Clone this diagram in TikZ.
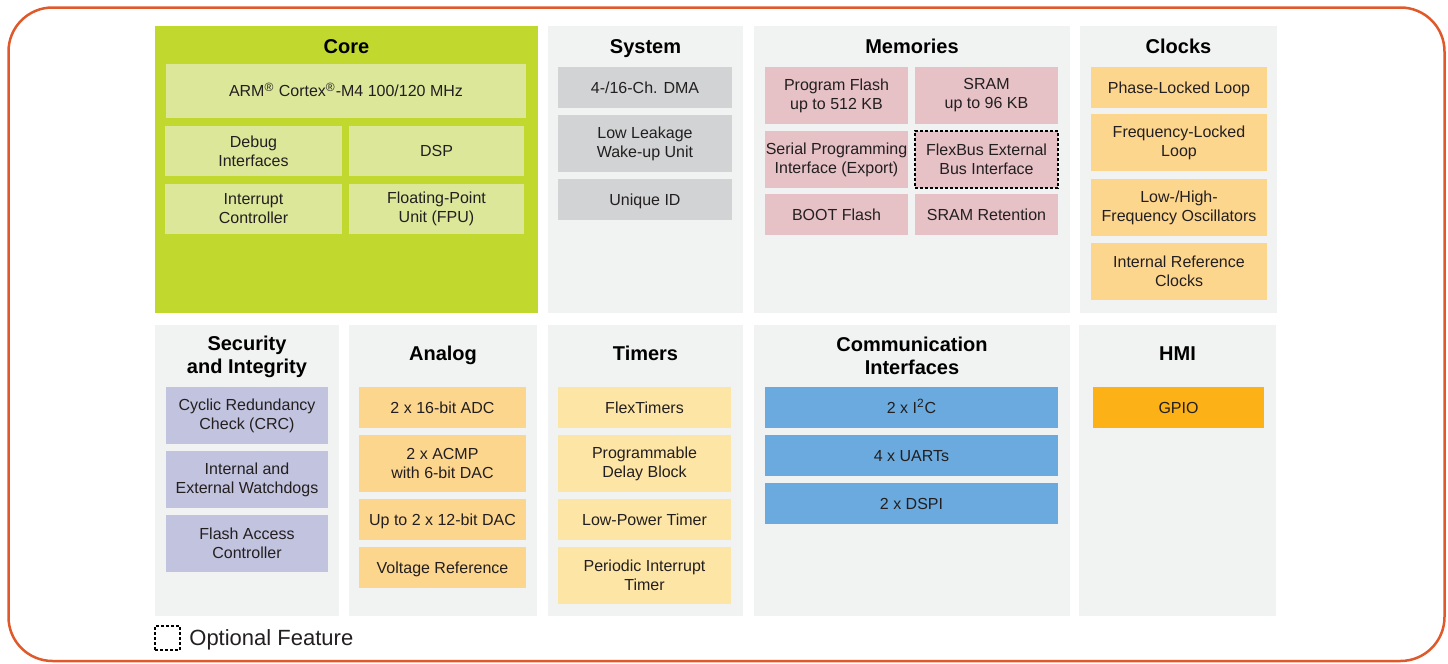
\documentclass[tikz,border=0pt]{standalone}
\usepackage{fontspec}
\setmainfont{Liberation Sans}
\usepackage{tikz}

\definecolor{rimorange}{HTML}{E0592A}
\definecolor{panelgray}{HTML}{F1F2F2}
\definecolor{coregreen}{HTML}{C1D82F}
\definecolor{corelight}{HTML}{DDE79A}
\definecolor{sysgray}{HTML}{D1D3D4}
\definecolor{mempink}{HTML}{E6C1C6}
\definecolor{clkorange}{HTML}{FDD68E}
\definecolor{tmryellow}{HTML}{FDE6A5}
\definecolor{secpurple}{HTML}{C2C3DF}
\definecolor{comblue}{HTML}{6AAADE}
\definecolor{hmiorange}{HTML}{FCB117}
\definecolor{inktext}{HTML}{231F20}

\tikzset{
  panel/.style={shape=rectangle,fill=panelgray,inner sep=0pt,minimum height=143.5pt},
  paneltitle/.style={align=center,font=\fontsize{10pt}{11.5pt}\selectfont\bfseries,text=black},
  titleline/.style={paneltitle,text height=7.2pt,text depth=0pt},
  block/.style={shape=rectangle,inner sep=0pt,align=center,text=inktext,
    font=\fontsize{8pt}{9.5pt}\selectfont},
  oneline/.style={text height=5.7pt,text depth=0pt},
  short/.style={minimum height=20.5pt,oneline},
  tall/.style={minimum height=28.5pt},
  optional/.style={draw=black,line width=0.6pt,dash pattern=on 1.5pt off 1pt}
}

\begin{document}
\begin{tikzpicture}[x=0.5pt,y=-0.5pt]
\useasboundingbox (0,0) rectangle (1448,664);
\draw[rimorange,line width=1.25pt,rounded corners=22pt] (8.5,7.5) rectangle (1444.5,661);

% top row
\node[panel,fill=coregreen,minimum width=191.5pt] (core) at (346.5,169.5) {};
\node[panel,minimum width=97.5pt] (system) at (645.5,169.5) {};
\node[panel,minimum width=158pt] (memories) at (912,169.5) {};
\node[panel,minimum width=98.5pt] (clocks) at (1178.5,169.5) {};
\node[titleline] (coreT) at (346.5,46) {Core};
\node[titleline] (systemT) at (645.5,46) {System};
\node[titleline] (memoriesT) at (912,46) {Memories};
\node[titleline] (clocksT) at (1178.5,46) {Clocks};

\node[block,oneline,fill=corelight,minimum width=180pt,minimum height=27pt] (arm) at (346,91) {ARM\textsuperscript{®} Cortex\textsuperscript{®}-M4 100/120 MHz};
\node[block,fill=corelight,minimum width=88.5pt,minimum height=25pt] (debug) at (253.5,151) {Debug\\Interfaces};
\node[block,oneline,fill=corelight,minimum width=87.5pt,minimum height=25pt] (dsp) at (436.5,151) {DSP};
\node[block,fill=corelight,minimum width=88.5pt,minimum height=25pt] (irq) at (253.5,209) {Interrupt\\Controller};
\node[block,fill=corelight,minimum width=87.5pt,minimum height=25pt] (fpu) at (436.5,209) {Floating-Point\\Unit (FPU)};

\node[block,short,fill=sysgray,minimum width=87pt] (dma) at (645,87.5) {4-/16-Ch. DMA};
\node[block,tall,fill=sysgray,minimum width=87pt] (llwu) at (645,143.5) {Low Leakage\\Wake-up Unit};
\node[block,short,fill=sysgray,minimum width=87pt] (uid) at (645,199.5) {Unique ID};

\node[block,tall,fill=mempink,minimum width=71.5pt] (pflash) at (836.5,95.5) {Program Flash\\up to 512 KB};
\node[block,tall,fill=mempink,minimum width=71.5pt] (sram) at (986.5,95.5) {SRAM\\up to 96 KB};
\node[block,tall,fill=mempink,minimum width=71.5pt] (ezport) at (836.5,159.5) {Serial Programming\\Interface (Export)};
\node[block,tall,fill=mempink,optional,minimum width=71.5pt] (flexbus) at (986.5,159.5) {FlexBus External\\Bus Interface};
\node[block,short,fill=mempink,minimum width=71.5pt] (boot) at (836.5,214.5) {BOOT Flash};
\node[block,short,fill=mempink,minimum width=71.5pt] (sramret) at (986.5,214.5) {SRAM Retention};

\node[block,short,fill=clkorange,minimum width=88pt] (pll) at (1179,87.5) {Phase-Locked Loop};
\node[block,tall,fill=clkorange,minimum width=88pt] (fll) at (1179,142.5) {Frequency-Locked\\Loop};
\node[block,tall,fill=clkorange,minimum width=88pt] (osc) at (1179,207.5) {Low-/High-\\Frequency Oscillators};
\node[block,tall,fill=clkorange,minimum width=88pt] (irc) at (1179,271.5) {Internal Reference\\Clocks};

% bottom row
\node[panel,minimum width=92pt,minimum height=145.5pt] (security) at (247,470.5) {};
\node[panel,minimum width=94pt,minimum height=145.5pt] (analog) at (443,470.5) {};
\node[panel,minimum width=97.5pt,minimum height=145.5pt] (timers) at (645.5,470.5) {};
\node[panel,minimum width=158pt,minimum height=145.5pt] (comm) at (912,470.5) {};
\node[panel,minimum width=98.5pt,minimum height=145.5pt] (hmi) at (1177.5,470.5) {};
\node[paneltitle] (securityT) at (247,356.5) {Security\\and Integrity};
\node[titleline] (analogT) at (443,353) {Analog};
\node[titleline] (timersT) at (645.5,353) {Timers};
\node[paneltitle] (commT) at (912,355.5) {Communication\\Interfaces};
\node[titleline] (hmiT) at (1177.5,353) {HMI};

\node[block,tall,fill=secpurple,minimum width=81pt] (crc) at (247,415.5) {Cyclic Redundancy\\Check (CRC)};
\node[block,tall,fill=secpurple,minimum width=81pt] (wdog) at (247,479.5) {Internal and\\External Watchdogs};
\node[block,tall,fill=secpurple,minimum width=81pt] (fac) at (247,543.5) {Flash Access\\Controller};

\node[block,short,fill=clkorange,minimum width=83.5pt] (adc) at (442.5,407.5) {2 x 16-bit ADC};
\node[block,tall,fill=clkorange,minimum width=83.5pt] (acmp) at (442.5,463.5) {2 x ACMP\\with 6-bit DAC};
\node[block,short,fill=clkorange,minimum width=83.5pt] (dac) at (442.5,519.5) {Up to 2 x 12-bit DAC};
\node[block,short,fill=clkorange,minimum width=83.5pt] (vref) at (442.5,567.5) {Voltage Reference};

\node[block,short,fill=tmryellow,minimum width=86.5pt] (ftm) at (644.5,407.5) {FlexTimers};
\node[block,tall,fill=tmryellow,minimum width=86.5pt] (pdb) at (644.5,463.5) {Programmable\\Delay Block};
\node[block,short,fill=tmryellow,minimum width=86.5pt] (lptmr) at (644.5,519.5) {Low-Power Timer};
\node[block,tall,fill=tmryellow,minimum width=86.5pt] (pit) at (644.5,575.5) {Periodic Interrupt\\Timer};

\node[block,short,fill=comblue,minimum width=146.5pt] (i2c) at (911.5,407.5) {2 x I\textsuperscript{2}C};
\node[block,short,fill=comblue,minimum width=146.5pt] (uart) at (911.5,455.5) {4 x UARTs};
\node[block,short,fill=comblue,minimum width=146.5pt] (dspi) at (911.5,503.5) {2 x DSPI};

\node[block,short,fill=hmiorange,minimum width=85.5pt] (gpio) at (1178.5,407.5) {GPIO};

% legend
\node[optional,inner sep=0pt,minimum width=12.5pt,minimum height=12pt] (legendbox) at (167.5,638) {};
\node[anchor=west,inner sep=0pt,text=inktext,text height=7.9pt,text depth=0pt,font=\fontsize{11pt}{13pt}\selectfont] (legendtext) at (189,638) {Optional Feature};
\end{tikzpicture}
\end{document}
